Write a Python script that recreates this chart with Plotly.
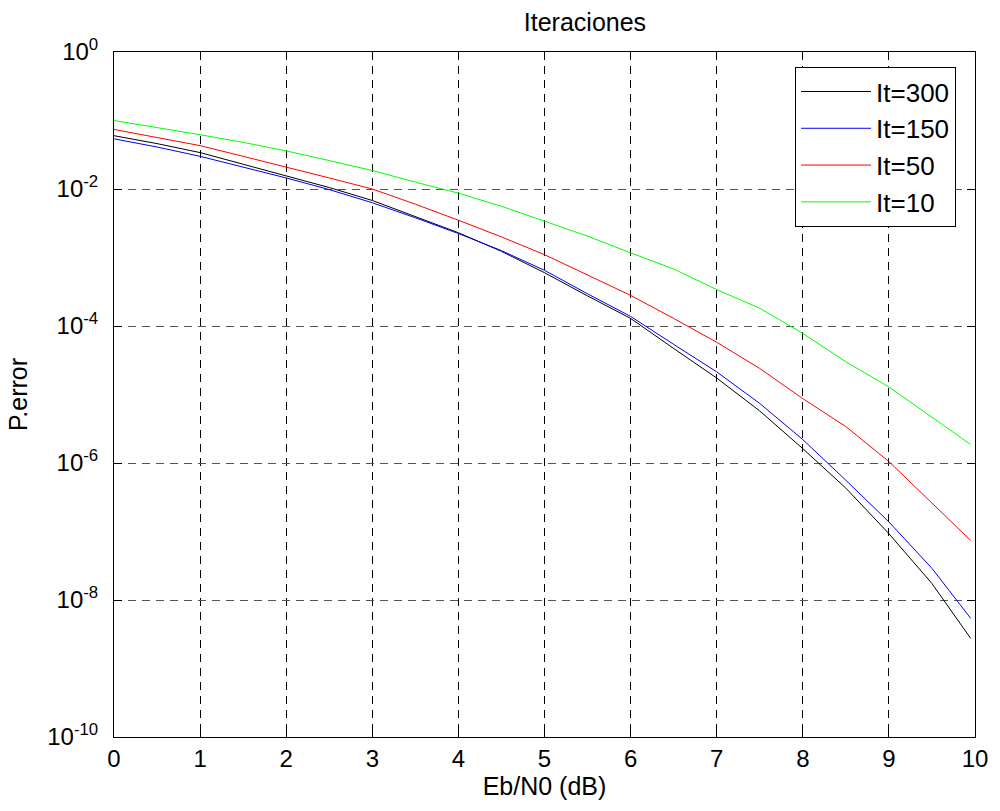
import plotly.graph_objects as go

# Eb/N0 (dB) sample points
ebn0 = [0, 0.5, 1, 1.5, 2, 2.5, 3, 3.5, 4, 4.5, 5, 5.5, 6, 6.5, 7, 7.5, 8, 8.5, 9, 9.5, 9.95]

# Error probability per number of iterations
pe_it300 = [6.0e-2, 4.6e-2, 3.4e-2, 2.3e-2, 1.58e-2, 1.05e-2, 6.8e-3, 4.0e-3, 2.3e-3, 1.23e-3,
            6.0e-4, 2.75e-4, 1.29e-4, 4.7e-5, 1.74e-5, 5.75e-6, 1.62e-6, 4.3e-7, 9.3e-8, 1.74e-8, 2.75e-9]
pe_it150 = [5.4e-2, 4.1e-2, 3.0e-2, 2.1e-2, 1.45e-2, 9.8e-3, 6.3e-3, 3.8e-3, 2.24e-3, 1.26e-3,
            6.5e-4, 2.95e-4, 1.38e-4, 5.4e-5, 2.14e-5, 7.4e-6, 2.2e-6, 5.6e-7, 1.38e-7, 2.9e-8, 5.4e-9]
pe_it50 = [7.4e-2, 5.6e-2, 4.3e-2, 3.0e-2, 2.1e-2, 1.45e-2, 1.0e-2, 6.0e-3, 3.5e-3, 2.0e-3,
           1.1e-3, 5.6e-4, 2.8e-4, 1.29e-4, 5.8e-5, 2.4e-5, 8.7e-6, 3.4e-6, 1.05e-6, 2.6e-7, 7.4e-8]
pe_it10 = [1.0e-1, 7.9e-2, 6.2e-2, 4.8e-2, 3.6e-2, 2.6e-2, 1.86e-2, 1.26e-2, 8.7e-3, 5.6e-3,
           3.4e-3, 2.05e-3, 1.17e-3, 6.8e-4, 3.4e-4, 1.82e-4, 7.8e-5, 3.0e-5, 1.29e-5, 4.7e-6, 1.86e-6]

series_names = ["It=300", "It=150", "It=50", "It=10"]
series_values = [pe_it300, pe_it150, pe_it50, pe_it10]
series_colors = ["#000000", "#0000ff", "#ff0000", "#00ff00"]

x_ticks = [0, 1, 2, 3, 4, 5, 6, 7, 8, 9, 10]
y_tickvals = [1e-10, 1e-8, 1e-6, 1e-4, 1e-2, 1e0]
y_ticktext = ["10<sup>-10</sup>", "10<sup>-8</sup>", "10<sup>-6</sup>",
              "10<sup>-4</sup>", "10<sup>-2</sup>", "10<sup>0</sup>"]

FONT = "Liberation Sans, Arial, Helvetica, sans-serif"

fig = go.Figure()
for name, vals, col in zip(series_names, series_values, series_colors):
    fig.add_trace(go.Scatter(x=ebn0, y=vals, mode="lines", name=name,
                             line=dict(color=col, width=1)))

fig.update_layout(
    width=1000, height=811,
    margin=dict(l=114, r=20, t=52, b=74),
    paper_bgcolor="white", plot_bgcolor="white",
    font=dict(family=FONT, size=24, color="black"),
    title=dict(text="Iteraciones", x=0.547, xanchor="center", xref="paper",
               y=0.972, yref="container", yanchor="middle",
               font=dict(family=FONT, size=25, color="black")),
    showlegend=True,
    legend=dict(x=0.978, y=0.978, xanchor="right", yanchor="top",
                bgcolor="white", bordercolor="black", borderwidth=1,
                font=dict(family=FONT, size=26, color="black"),
                tracegroupgap=0, itemwidth=70),
)

fig.update_xaxes(range=[0, 10], tickvals=x_ticks, ticktext=[str(t) for t in x_ticks],
                 showline=True, linecolor="black", linewidth=1, mirror="ticks",
                 ticks="inside", ticklen=8, tickcolor="black",
                 showgrid=True, gridcolor="black", gridwidth=1, griddash="8px,6px",
                 zeroline=False,
                 title=dict(text="Eb/N0 (dB)", standoff=6,
                            font=dict(family=FONT, size=25, color="black")),
                 tickfont=dict(family=FONT, size=24, color="black"))

fig.update_yaxes(type="log", range=[-10, 0], tickvals=y_tickvals, ticktext=y_ticktext,
                 showline=True, linecolor="black", linewidth=1, mirror="ticks",
                 ticks="inside", ticklen=8, tickcolor="black",
                 showgrid=True, gridcolor="#555555", gridwidth=1, griddash="8px,6px",
                 zeroline=False, ticklabelstandoff=10,
                 title=dict(text="P.error", standoff=12,
                            font=dict(family=FONT, size=25, color="black")),
                 tickfont=dict(family=FONT, size=24, color="black"))

fig.write_html("out.html")
